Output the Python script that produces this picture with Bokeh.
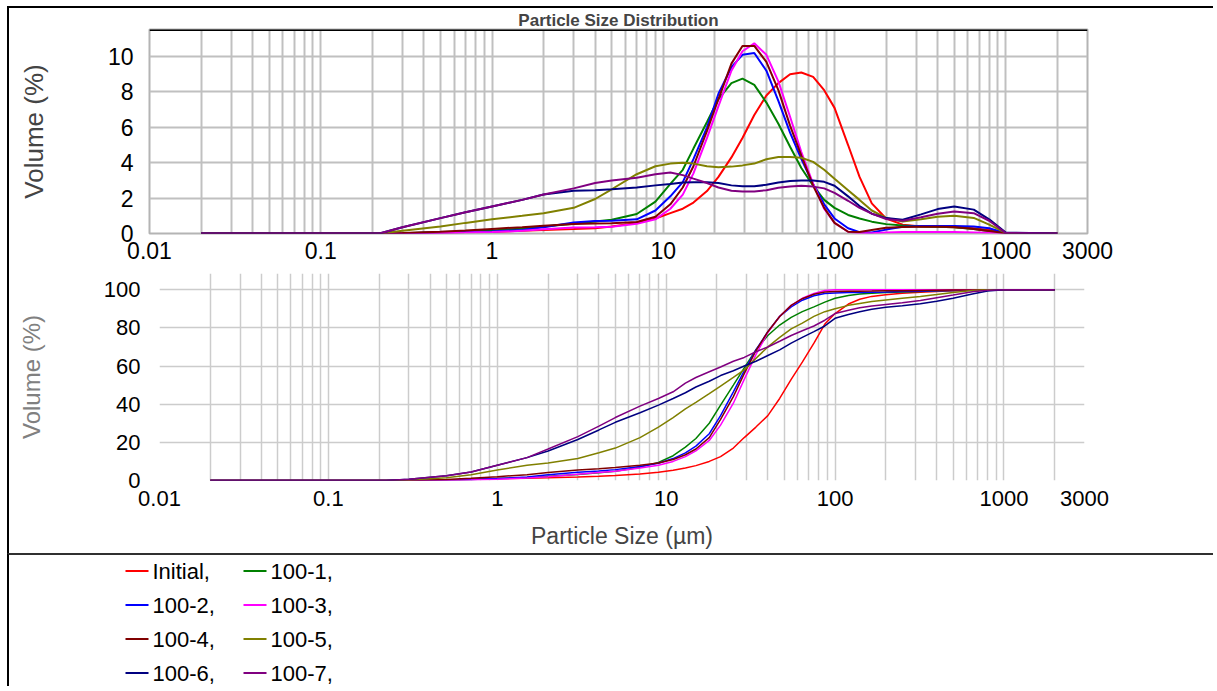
from bokeh.plotting import figure
from bokeh.models import Range1d, FixedTicker, CustomJSTickFormatter, Span
from bokeh.embed import file_html
from bokeh.resources import INLINE
from bokeh.core.properties import value

# ---------------- data ----------------
sizes = [0.02, 0.22, 0.3, 0.5, 0.7, 1, 1.5, 2, 3, 4, 5, 7, 9, 11, 13, 15, 18, 21, 25, 29,
         34, 40, 47, 55, 64, 75, 87, 100, 120, 140, 165, 200, 250, 320, 400, 500, 650, 800, 1000, 2000]

names = ["Initial", "100-1", "100-2", "100-3", "100-4", "100-5", "100-6", "100-7"]
colors = ["#ff0000", "#008000", "#0000ff", "#ff00ff", "#800000", "#808000", "#000080", "#800080"]

# frequency (Volume % per size class)
freq_initial = [0, 0, 0.02, 0.05, 0.08, 0.1, 0.15, 0.2, 0.25, 0.3, 0.4, 0.6, 0.85, 1.15, 1.4, 1.75, 2.4, 3.2, 4.3, 5.4,
                6.7, 7.8, 8.5, 9.0, 9.1, 8.85, 8.1, 7.1, 5.0, 3.2, 1.7, 0.85, 0.5, 0.4, 0.38, 0.36, 0.3, 0.2, 0.02, 0]
freq_100_1 = [0, 0, 0.02, 0.08, 0.12, 0.17, 0.28, 0.4, 0.55, 0.68, 0.78, 1.1, 1.8, 2.8, 3.6, 4.8, 6.3, 7.6, 8.5, 8.75,
              8.4, 7.4, 6.2, 4.9, 3.7, 2.7, 1.9, 1.45, 1.05, 0.85, 0.67, 0.53, 0.45, 0.4, 0.38, 0.36, 0.25, 0.13, 0.02, 0]
freq_100_2 = [0, 0, 0.02, 0.05, 0.08, 0.11, 0.2, 0.35, 0.62, 0.7, 0.72, 0.8, 1.3, 2.1, 2.9, 4.2, 6.0, 7.9, 9.4, 10.1,
              10.2, 9.2, 7.5, 5.7, 4.2, 2.8, 1.65, 0.85, 0.3, 0.08, 0.06, 0.22, 0.38, 0.42, 0.42, 0.42, 0.4, 0.3, 0.02, 0]
freq_100_3 = [0, 0, 0.01, 0.03, 0.05, 0.08, 0.15, 0.24, 0.34, 0.36, 0.38, 0.55, 0.8, 1.4, 2.2, 3.4, 5.4, 7.2, 9.2, 10.3,
              10.75, 10.1, 8.6, 6.6, 4.6, 2.8, 1.4, 0.6, 0.1, 0.02, 0.02, 0.05, 0.08, 0.08, 0.08, 0.08, 0.06, 0.04, 0.01, 0]
freq_100_4 = [0, 0, 0.03, 0.1, 0.17, 0.26, 0.36, 0.44, 0.53, 0.56, 0.58, 0.65, 0.95, 1.65, 2.6, 3.8, 5.8, 7.6, 9.6, 10.6,
              10.6, 9.7, 8.1, 6.1, 4.4, 2.7, 1.45, 0.6, 0.1, 0.08, 0.2, 0.32, 0.37, 0.38, 0.38, 0.37, 0.25, 0.14, 0.02, 0]
freq_100_5 = [0, 0, 0.15, 0.4, 0.6, 0.8, 1.0, 1.15, 1.45, 1.95, 2.5, 3.35, 3.8, 3.95, 4.0, 3.95, 3.8, 3.75, 3.78, 3.85,
              3.95, 4.2, 4.32, 4.33, 4.28, 4.05, 3.6, 3.1, 2.45, 1.9, 1.3, 0.88, 0.68, 0.8, 0.95, 1.0, 0.88, 0.5, 0.03, 0]
freq_100_6 = [0, 0, 0.35, 0.87, 1.2, 1.53, 1.9, 2.2, 2.42, 2.45, 2.5, 2.6, 2.72, 2.8, 2.88, 2.9, 2.9, 2.85, 2.72, 2.67,
              2.67, 2.75, 2.88, 2.97, 3.0, 3.0, 2.92, 2.7, 2.1, 1.55, 1.12, 0.87, 0.78, 1.08, 1.38, 1.52, 1.35, 0.8, 0.05, 0]
freq_100_7 = [0, 0, 0.35, 0.87, 1.2, 1.53, 1.9, 2.2, 2.55, 2.85, 3.0, 3.15, 3.35, 3.45, 3.3, 3.1, 2.85, 2.6, 2.42, 2.38,
              2.38, 2.45, 2.58, 2.65, 2.7, 2.65, 2.55, 2.3, 1.85, 1.45, 1.12, 0.82, 0.72, 0.92, 1.12, 1.24, 1.15, 0.72, 0.03, 0]

# cumulative (Volume % undersize)
cum_initial = [0, 0, 0, 0.3, 0.6, 1.0, 1.2, 1.4, 1.8, 2.2, 2.6, 3.4, 4.3, 5.4, 6.6, 7.8, 10, 12.5, 17, 22.5,
               28, 34, 43, 53, 62, 72, 82, 87.5, 92.5, 95, 96.5, 97.4, 98.1, 98.7, 99.1, 99.5, 99.8, 100, 100, 100]
cum_100_1 = [0, 0, 0, 0.2, 0.5, 1.0, 1.5, 2.2, 3.2, 4.0, 4.8, 7.0, 9.5, 13, 17.5, 22, 30, 39.5, 50, 59,
             68.5, 76, 81.5, 85.5, 88.5, 91, 93.5, 95.5, 97, 97.8, 98.2, 98.5, 98.8, 99.1, 99.4, 99.6, 99.8, 99.95, 100, 100]
cum_100_2 = [0, 0, 0, 0.2, 0.5, 1.0, 1.8, 3.0, 4.3, 5.0, 5.7, 7.3, 9.0, 11.5, 14.5, 18, 24.5, 34, 46.5, 57.5,
             68.5, 78, 86, 91, 94.5, 96.8, 98, 98.3, 98.5, 98.6, 98.7, 98.8, 99, 99.2, 99.4, 99.6, 99.8, 99.95, 100, 100]
cum_100_3 = [0, 0, 0, 0.1, 0.3, 0.7, 1.3, 2.0, 3.3, 4.2, 4.8, 6.5, 8.0, 10, 12.5, 15.5, 21, 29, 40.5, 53,
             66, 77.5, 86, 91.8, 95.5, 98, 99.6, 100, 100, 100, 100, 100, 100, 100, 100, 100, 100, 100, 100, 100]
cum_100_4 = [0, 0, 0, 0.5, 1.2, 2.0, 3.0, 4.2, 5.5, 6.2, 6.8, 8.0, 9.2, 11, 13.5, 16.5, 22.5, 32, 44, 56,
             68, 78, 86, 91.8, 95.3, 97.6, 98.8, 99.1, 99.2, 99.25, 99.3, 99.4, 99.5, 99.6, 99.7, 99.8, 99.9, 100, 100, 100]
cum_100_5 = [0, 0, 0.3, 1.5, 3.0, 5.5, 8.0, 9.2, 11.5, 14.5, 17, 22.5, 28, 33, 37.5, 41, 45.5, 49.5, 54, 58,
             64, 70, 75, 79.5, 82.5, 86, 88.5, 90, 91.8, 92.8, 93.8, 94.6, 95.5, 96.5, 97.5, 98.6, 99.6, 100, 100, 100]
cum_100_6 = [0, 0, 0.6, 2.5, 4.5, 8.0, 12, 15.5, 21.5, 26.5, 30.5, 35.5, 39.5, 43, 46, 49, 52, 55, 57.5, 60,
             62.5, 65.5, 68.5, 72, 75, 78, 81, 85, 87, 88.5, 89.8, 90.8, 91.6, 92.6, 93.9, 95.5, 97.8, 99.3, 100, 100]
cum_100_7 = [0, 0, 0.6, 2.5, 4.5, 8.0, 12, 16.5, 23, 28.5, 33, 39, 43, 46.5, 51, 54, 57, 59.5, 62.5, 64.5,
             67.5, 70, 73, 76, 78.5, 81, 84, 87.5, 89.2, 90.5, 91.5, 92.3, 93.2, 94.4, 95.8, 97.2, 98.9, 99.7, 100, 100]

freq_series = [freq_initial, freq_100_1, freq_100_2, freq_100_3, freq_100_4, freq_100_5, freq_100_6, freq_100_7]
cum_series = [cum_initial, cum_100_1, cum_100_2, cum_100_3, cum_100_4, cum_100_5, cum_100_6, cum_100_7]

x_major = [0.01, 0.1, 1, 10, 100, 1000, 3000]
x_minor = [m * 10.0 ** k for k in range(-2, 3) for m in range(2, 10)] + [2000]

FONT = "Liberation Sans"
W = 1206
YTOP1 = 11.53


def style_log_x(p, size, grid_color, grid_w):
    t = FixedTicker(ticks=x_major, minor_ticks=x_minor)
    p.xaxis.ticker = t
    p.xgrid.ticker = t
    p.xaxis.formatter = CustomJSTickFormatter(code="return tick.toString();")
    for ax in (p.xaxis, p.yaxis):
        ax.major_tick_line_color = None
        ax.minor_tick_line_color = None
        ax.axis_line_color = None
        ax.major_label_text_font = FONT
        ax.major_label_text_font_size = size
        ax.major_label_text_color = "#000000"
        ax.axis_label_text_font = FONT
        ax.axis_label_text_font_style = "normal"
    p.xgrid.grid_line_color = grid_color
    p.xgrid.grid_line_width = grid_w
    p.xgrid.minor_grid_line_color = grid_color
    p.xgrid.minor_grid_line_width = grid_w
    p.ygrid.grid_line_color = grid_color
    p.ygrid.grid_line_width = grid_w
    p.background_fill_color = "#ffffff"
    p.border_fill_color = "#ffffff"


# ---------------- top: frequency ----------------
p1 = figure(width=W, height=262, x_axis_type="log", x_range=Range1d(0.01, 3000),
            y_range=Range1d(0, YTOP1), output_backend="svg", toolbar_location=None,
            min_border_left=140, min_border_right=128, min_border_top=20, min_border_bottom=37,
            styles={"margin-left": "7px", "margin-top": "6px",
                    "border-left": "2px solid #000000", "border-top": "2px solid #000000"})
style_log_x(p1, "23px", "#c0c0c0", 2)
yt1 = FixedTicker(ticks=[0, 2, 4, 6, 8, 10])
p1.yaxis.ticker = yt1
p1.ygrid.ticker = yt1
p1.xaxis.major_label_standoff = 2
p1.yaxis.major_label_standoff = 10
p1.yaxis.axis_label = "Volume (%)"
p1.yaxis.axis_label_text_font_size = "26px"
p1.yaxis.axis_label_standoff = 56
p1.title.text = "Particle Size Distribution"
p1.title.align = "center"
p1.title.text_font = FONT
p1.title.text_font_style = "bold"
p1.title.text_font_size = "17px"
p1.title.standoff = 0
p1.title.offset = 0
p1.outline_line_color = "#b4b4b4"
p1.outline_line_width = 2
for ser, col in zip(freq_series, colors):
    p1.line(x=sizes, y=ser, color=col, line_width=2)
p1.add_layout(Span(location=YTOP1, dimension="width", line_color="#000000", line_width=3))

# ---------------- bottom: cumulative ----------------
p2 = figure(width=W, height=285, x_axis_type="log", x_range=Range1d(0.01, 3000),
            y_range=Range1d(0, 108.5), output_backend="svg", toolbar_location=None,
            min_border_left=150, min_border_right=131, min_border_top=5, min_border_bottom=73,
            styles={"margin-left": "7px", "border-left": "2px solid #000000"})
style_log_x(p2, "22px", "#cccccc", 1.5)
yt2 = FixedTicker(ticks=[0, 20, 40, 60, 80, 100])
p2.yaxis.ticker = yt2
p2.ygrid.ticker = yt2
p2.xaxis.major_label_standoff = 4
p2.yaxis.major_label_standoff = 13
p2.yaxis.axis_label = "Volume (%)"
p2.yaxis.axis_label_text_font_size = "24px"
p2.yaxis.axis_label_text_color = "#808080"
p2.yaxis.axis_label_standoff = 56
p2.xaxis.axis_label = "Particle Size (µm)"
p2.xaxis.axis_label_text_font_size = "23px"
p2.xaxis.axis_label_standoff = 14
p2.outline_line_color = None
for ser, col in zip(cum_series, colors):
    p2.line(x=sizes, y=ser, color=col, line_width=1.5)

# ---------------- legend panel ----------------
LH = 133
p3 = figure(width=W, height=LH, x_range=Range1d(0, W), y_range=Range1d(0, LH),
            output_backend="svg", toolbar_location=None,
            x_axis_location=None, y_axis_location=None,
            min_border_left=0, min_border_right=0, min_border_top=0, min_border_bottom=0,
            styles={"margin-left": "7px", "border-left": "2px solid #000000",
                    "border-top": "2px solid #303030"})
p3.xgrid.visible = False
p3.ygrid.visible = False
p3.outline_line_color = None
p3.background_fill_color = "#ffffff"
p3.border_fill_color = "#ffffff"

row_top, row_step = 15.5, 34.0
col_line_x = [116, 234]
line_len, text_gap = 23, 4
for i, (nm, col) in enumerate(zip(names, colors)):
    r, c = divmod(i, 2)
    yy = LH - (row_top + r * row_step)
    x0 = col_line_x[c]
    p3.line(x=[x0, x0 + line_len], y=[yy, yy], color=col, line_width=2)
    p3.text(x=[x0 + line_len + text_gap], y=[yy], text=[nm + ","], text_baseline="middle",
            text_align="left", text_font=value(FONT), text_font_size=value("22px"),
            text_color="#000000")

open("out.html", "w").write(file_html([p1, p2, p3], INLINE))
